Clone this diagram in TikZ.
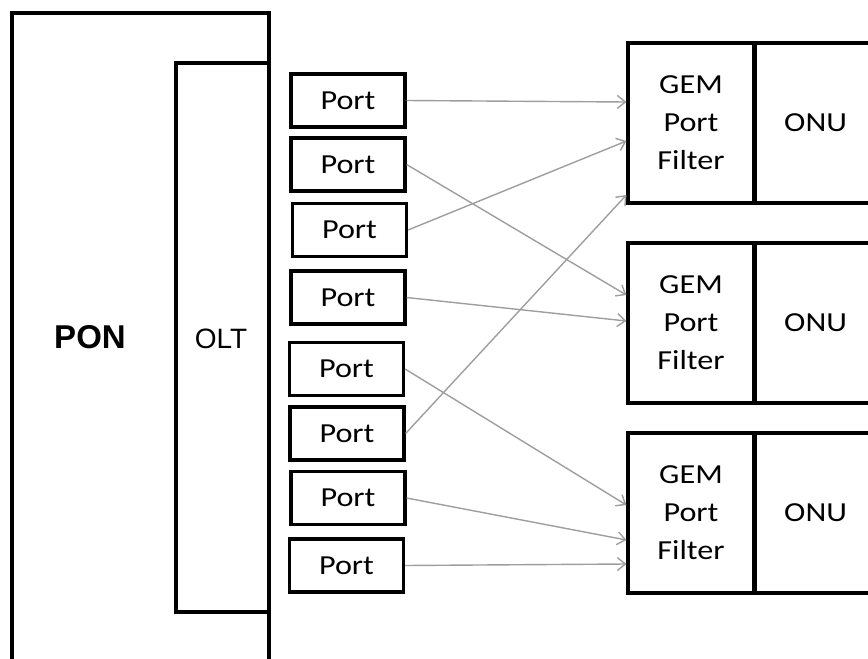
\documentclass[tikz,border=0pt]{standalone}
\usepackage{fontspec}
\setmainfont{Carlito}[FakeStretch=1.17]
\newfontfamily\arialfont{Liberation Sans}
\usetikzlibrary{arrows.meta}
\begin{document}
\begin{tikzpicture}[x=1pt,y=-1pt,
  frame/.style={draw=black,line width=3.2pt},
  portbox/.style={frame,minimum width=114pt,minimum height=53pt,inner sep=0pt,
    font=\fontsize{27.5}{33}\selectfont},
  gembox/.style={frame,minimum width=126pt,minimum height=160pt,inner sep=0pt,
    align=center,font=\fontsize{27.5}{38}\selectfont},
  onubox/.style={frame,minimum width=120pt,minimum height=160pt,inner sep=0pt,
    font=\fontsize{27.5}{33}\selectfont},
  link/.style={draw=black!38,line width=1.4pt,
    -{Straight Barb[length=8pt,width=13pt,line width=1.4pt]}}
]
\useasboundingbox (0,0) rectangle (868,659);
\clip (0,0) rectangle (868,659);

% PON and OLT enclosures
\draw[frame] (12,700) -- (12,13) -- (269,13) -- (269,700);
\draw[frame] (176,63) rectangle (269,612);
\node[font=\arialfont\bfseries\fontsize{33}{38}\selectfont] (pon) at (90,337) {PON};
\node[font=\arialfont\fontsize{28}{32}\selectfont] (olt) at (221,339) {OLT};

% OLT ports
\node[portbox] (p1) at (348,100.5) {Port};
\node[portbox] (p2) at (348,164.5) {Port};
\node[portbox] (p3) at (349.5,230) {Port};
\node[portbox] (p4) at (348,297.5) {Port};
\node[portbox] (p5) at (346.5,369) {Port};
\node[portbox] (p6) at (347,433.5) {Port};
\node[portbox] (p7) at (348,498) {Port};
\node[portbox] (p8) at (346.5,565.5) {Port};

% ONUs with their GEM port filters
\node[gembox] (gem1) at (691,123) {GEM\\Port\\Filter};
\node[gembox] (gem2) at (691,323) {GEM\\Port\\Filter};
\node[gembox] (gem3) at (691,513) {GEM\\Port\\Filter};
\node[onubox,anchor=west] (onu1) at ([xshift=-1.6pt]gem1.east) {ONU};
\node[onubox,anchor=west] (onu2) at ([xshift=-1.6pt]gem2.east) {ONU};
\node[onubox,anchor=west] (onu3) at ([xshift=-1.6pt]gem3.east) {ONU};

% Port to GEM port filter mapping
\draw[link] (p1.east) -- ([yshift=21pt]gem1.west);
\draw[link] (p2.east) -- ([yshift=28pt]gem2.west);
\draw[link] (p3.east) -- ([yshift=-18pt]gem1.west);
\draw[link] (p4.east) -- ([yshift=2pt]gem2.west);
\draw[link] (p5.east) -- ([yshift=8pt]gem3.west);
\draw[link] (p6.east) -- ([yshift=-72pt]gem1.west);
\draw[link] (p7.east) -- ([yshift=-27pt]gem3.west);
\draw[link] (p8.east) -- ([yshift=-51pt]gem3.west);
\end{tikzpicture}
\end{document}
